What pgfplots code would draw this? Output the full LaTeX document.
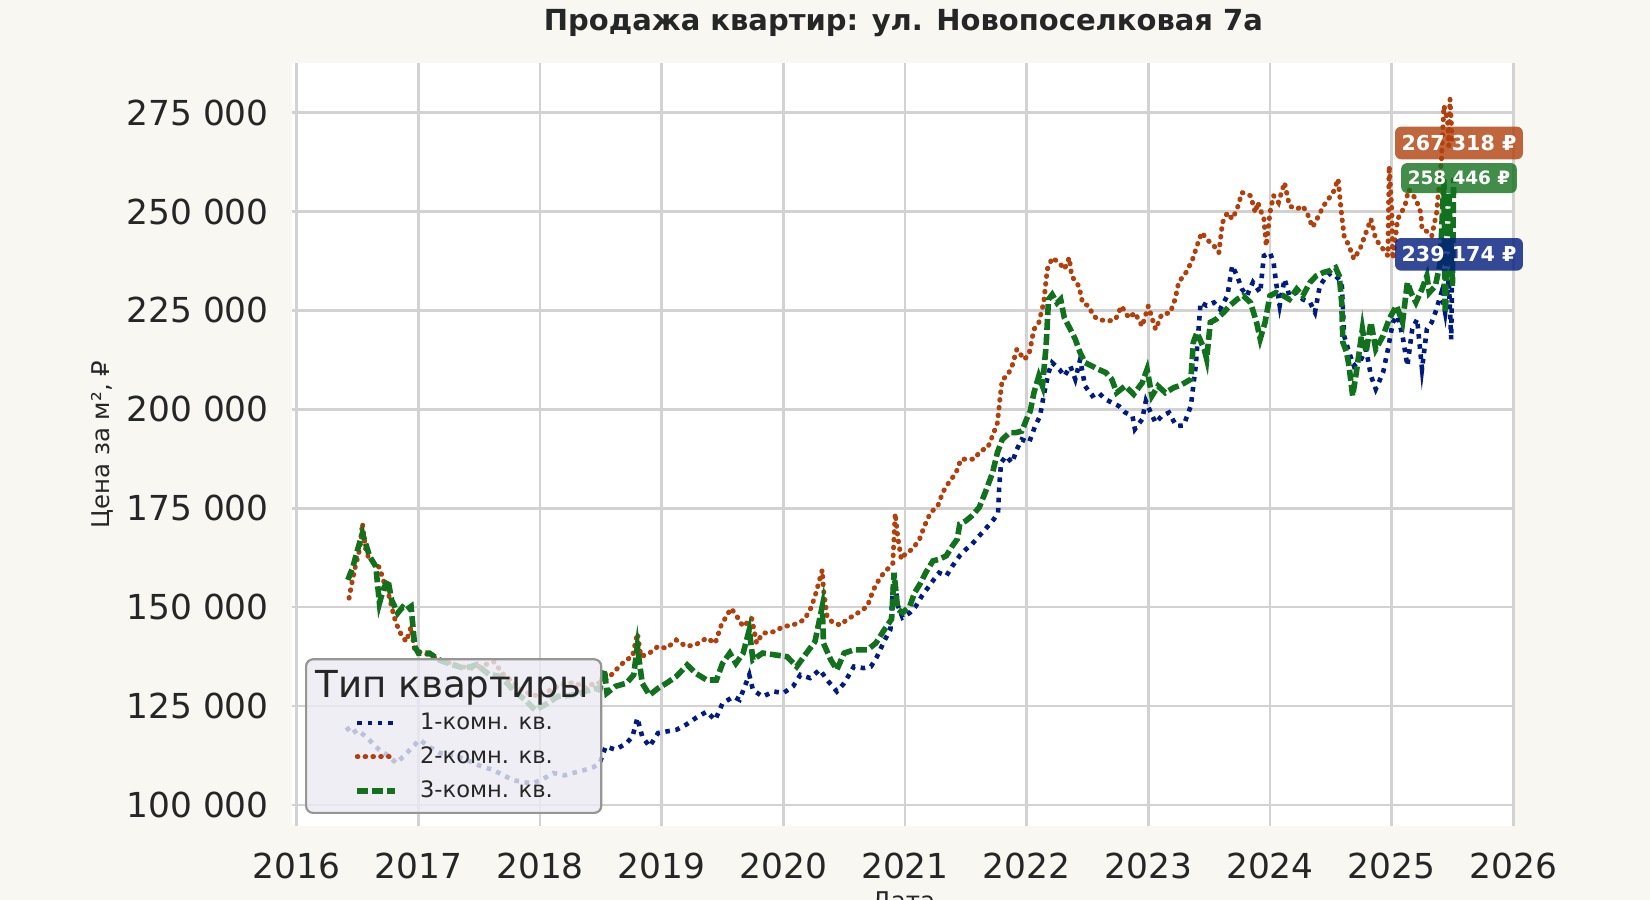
\documentclass[border=0pt]{standalone}
\usepackage{fontspec}
\setmainfont{DejaVu Sans}
\usepackage{pgfplots}
\pgfplotsset{compat=1.18}

\definecolor{figbg}{RGB}{248,247,242}
\definecolor{txt}{RGB}{38,38,38}
\definecolor{gridc}{RGB}{210,210,210}
\definecolor{c1}{HTML}{001C7F}
\definecolor{c2}{HTML}{B1400D}
\definecolor{c3}{HTML}{12711C}
\definecolor{legfill}{RGB}{234,234,242}
\definecolor{legdraw}{RGB}{150,150,150}

% struts that fix the height of the legend rows
\newcommand\entstrut{\rule[-3.35pt]{0pt}{11.85pt}}
\newcommand\titstrut{\rule[-8.65pt]{0pt}{22.75pt}}

\tikzset{pricelab/.style={fill opacity=0.8, text opacity=1, text=white,
    rounded corners=3pt, inner xsep=3.3pt, inner ysep=4.4pt,
    text height=7.5pt, text depth=0pt, anchor=center}}

\begin{document}
\begin{tikzpicture}
\fill[figbg] (0,0) rectangle (825pt,450pt);
\begin{axis}[
    at={(145.75pt,36.95pt)}, anchor=south west,
    scale only axis, width=611.9pt, height=381.5pt,
    xmin=2015.957, xmax=2026.017,
    ymin=94680, ymax=287500,
    clip mode=individual,
    axis background/.style={fill=white},
    axis line style={draw=none},
    major tick length=0pt,
    xtick={2016,2017,2018,2019,2020,2021,2022,2023,2024,2025,2026},
    ytick={100000,125000,150000,175000,200000,225000,250000,275000},
    grid=major,
    major grid style={gridc, line width=1.3pt},
    scaled ticks=false,
    /pgf/number format/assume math mode=true,
    tick label style={font=\fontsize{17.2}{20}\selectfont, text=txt},
    xticklabel style={/pgf/number format/1000 sep={}, anchor=center, yshift=-20pt, inner sep=0pt},
    yticklabel style={/pgf/number format/fixed, /pgf/number format/1000 sep={\ }, anchor=east, xshift=-11.15pt, inner sep=0pt},
    title={Продажа квартир: ул. Новопоселковая 7а},
    every axis title/.style={at={(axis description cs:0.5,1)}, anchor=center, yshift=20.1pt,
        font=\bfseries\fontsize{14.5}{17}\selectfont, text=txt},
    xlabel={Дата},
    every axis x label/.style={at={(axis description cs:0.5,0)}, anchor=north, yshift=-32.5pt,
        inner sep=0pt, font=\fontsize{12.2}{14}\selectfont, text=txt},
    ylabel={Цена за м², ₽},
    every axis y label/.style={at={(axis description cs:-0.15484,0.5)}, rotate=90, anchor=center,
        inner sep=0pt, font=\fontsize{12.2}{14}\selectfont, text=txt},
    legend style={
        at={(0,0)}, anchor=south west, xshift=6.75pt, yshift=6.05pt,
        fill=legfill, fill opacity=0.8, text opacity=1, draw=legdraw, line width=1.1pt,
        rounded corners=3.5pt,
        inner xsep=24.2pt, inner ysep=5pt, row sep=6.2pt,
        nodes={inner sep=0pt, text=txt},
        cells={anchor=west},
        font=\fontsize{11.3}{13}\selectfont,
        /tikz/every odd column/.append style={column sep=11.2pt},
    },
    legend image code/.code={\draw[#1] (0pt,0pt) -- (18.8pt,0pt); \path (0pt,-4.6pt);},
]

\addlegendimage{empty legend}
\addlegendentry{\fontsize{18.6}{20}\selectfont\titstrut\hspace*{-52.2pt}Тип квартиры\hspace*{-20pt}}

% 1-комн.
\addplot[c1, line width=2.3pt, dash pattern=on 2.3pt off 2.8pt] coordinates {
(2016.41,119700) (2016.45,118000) (2016.50,119000) (2016.58,117000) (2016.68,113900)
(2016.75,112500) (2016.82,110600) (2016.90,113000) (2017.01,116500) (2017.10,114500)
(2017.18,113100) (2017.30,112500) (2017.40,111400) (2017.50,110000) (2017.62,108800)
(2017.70,107500) (2017.78,106300) (2017.86,105800) (2017.94,105500) (2018.02,106500)
(2018.11,108100) (2018.20,107500) (2018.27,108100) (2018.36,108800) (2018.44,109600)
(2018.49,110600) (2018.54,114800) (2018.62,114000) (2018.71,115600) (2018.76,117300)
(2018.80,122000) (2018.84,117300) (2018.90,114800) (2018.97,118200) (2019.04,118600)
(2019.12,119000) (2019.20,120300) (2019.28,122000) (2019.37,123600) (2019.44,121500)
(2019.50,125700) (2019.59,127400) (2019.64,126600) (2019.72,132900) (2019.75,129100)
(2019.83,127400) (2019.92,128700) (2020.00,128300) (2020.08,130000) (2020.14,132900)
(2020.22,132100) (2020.30,134200) (2020.36,131600) (2020.44,128700) (2020.50,130800)
(2020.58,135000) (2020.66,134600) (2020.72,135000) (2020.77,137500) (2020.83,141500)
(2020.88,144300) (2020.91,159000) (2020.94,150500) (2020.98,147400) (2021.04,148600)
(2021.09,150300) (2021.14,152900) (2021.20,155400) (2021.24,157100) (2021.28,158700)
(2021.34,157900) (2021.39,160400) (2021.45,163000) (2021.50,164600) (2021.55,165900)
(2021.61,168000) (2021.66,169700) (2021.73,172200) (2021.765,173900) (2021.775,180600)
(2021.79,186500) (2021.83,188200) (2021.88,186500) (2021.92,189900) (2021.96,192400)
(2022.02,191600) (2022.07,195800) (2022.11,198300) (2022.14,203400) (2022.18,209300)
(2022.21,211800) (2022.27,210100) (2022.31,208400) (2022.36,210900) (2022.40,207600)
(2022.44,212600) (2022.48,205900) (2022.54,203400) (2022.59,204200) (2022.65,202500)
(2022.70,201700) (2022.76,200800) (2022.81,199200) (2022.87,198300) (2022.89,195000)
(2022.95,197500) (2022.98,202100) (2023.02,199200) (2023.06,196600) (2023.11,198300)
(2023.17,199200) (2023.23,195800) (2023.29,195900) (2023.35,200900) (2023.39,211000)
(2023.43,227000) (2023.48,226200) (2023.54,227000) (2023.59,225300) (2023.65,228700)
(2023.69,236300) (2023.73,233700) (2023.77,230400) (2023.81,228700) (2023.86,232100)
(2023.92,229500) (2023.95,238800) (2024.00,239600) (2024.03,237100) (2024.05,232100)
(2024.08,226200) (2024.12,232900) (2024.16,228700) (2024.22,229500) (2024.27,227800)
(2024.33,227000) (2024.37,224500) (2024.41,231200) (2024.45,233000) (2024.50,234500)
(2024.54,233700) (2024.59,232100) (2024.61,218600) (2024.65,214400) (2024.69,211000)
(2024.75,212700) (2024.79,215200) (2024.83,208500) (2024.87,205100) (2024.93,209300)
(2024.97,215200) (2025.01,222000) (2025.05,223600) (2025.09,218600) (2025.13,211000)
(2025.17,220300) (2025.21,222800) (2025.25,210200) (2025.29,220300) (2025.33,222000)
(2025.36,224500) (2025.41,229500) (2025.44,224500) (2025.47,232900) (2025.49,217700)
(2025.50,239174)
};
\addlegendentry{\entstrut 1-комн. кв.}

% 2-комн.
\addplot[c2, line width=2.5pt, line cap=round, dash pattern=on 0.3pt off 3.6pt] coordinates {
(2016.43,152300) (2016.45,155600) (2016.48,160000) (2016.52,165000) (2016.54,171200)
(2016.57,164000) (2016.60,162000) (2016.65,161000) (2016.68,160000) (2016.72,156000)
(2016.76,152700) (2016.80,147600) (2016.83,145000) (2016.86,143000) (2016.90,141300)
(2016.94,145000) (2016.97,139000) (2017.05,138400) (2017.15,137000) (2017.25,136000)
(2017.35,135000) (2017.45,134500) (2017.55,135500) (2017.62,136200) (2017.70,133000)
(2017.78,131000) (2017.85,129000) (2017.92,128000) (2018.00,127500) (2018.08,129000)
(2018.18,130500) (2018.28,131000) (2018.38,129500) (2018.45,131000) (2018.49,130800)
(2018.54,131600) (2018.60,133300) (2018.65,135000) (2018.71,136700) (2018.76,137500)
(2018.80,143400) (2018.83,137500) (2018.90,138400) (2018.97,140100) (2019.04,139600)
(2019.12,141700) (2019.20,140100) (2019.28,140500) (2019.37,142200) (2019.44,140900)
(2019.49,145500) (2019.53,147600) (2019.57,149700) (2019.61,148100) (2019.67,145100)
(2019.74,147200) (2019.78,140900) (2019.83,143400) (2019.92,143800) (2020.00,145100)
(2020.08,145500) (2020.17,146800) (2020.22,149300) (2020.26,152700) (2020.32,159400)
(2020.33,154400) (2020.36,147600) (2020.41,146000) (2020.47,145500) (2020.52,146800)
(2020.61,148500) (2020.69,150200) (2020.74,154400) (2020.80,157700) (2020.85,159400)
(2020.90,161100) (2020.92,173700) (2020.94,167800) (2020.97,162100) (2021.01,163800)
(2021.06,164600) (2021.12,167200) (2021.16,170500) (2021.21,173900) (2021.27,175600)
(2021.31,179000) (2021.36,181500) (2021.42,184000) (2021.46,187400) (2021.50,187400)
(2021.57,187400) (2021.62,189500) (2021.68,190300) (2021.72,193300) (2021.76,196600)
(2021.78,202500) (2021.80,207600) (2021.84,208400) (2021.88,210900) (2021.92,215200)
(2021.98,212600) (2022.02,213900) (2022.06,220200) (2022.10,221900) (2022.14,226900)
(2022.17,235400) (2022.21,238300) (2022.27,237000) (2022.31,235400) (2022.35,238300)
(2022.37,233700) (2022.43,231100) (2022.46,226900) (2022.51,226100) (2022.55,223600)
(2022.59,222700) (2022.67,222300) (2022.73,222700) (2022.78,226100) (2022.84,223100)
(2022.89,224400) (2022.95,221000) (2023.00,226100) (2023.06,220200) (2023.11,224000)
(2023.18,224400) (2023.22,227800) (2023.25,232100) (2023.31,234600) (2023.36,237500)
(2023.40,241300) (2023.44,244700) (2023.48,243000) (2023.54,241300) (2023.58,239600)
(2023.61,247200) (2023.65,249700) (2023.69,248100) (2023.73,250600) (2023.77,254800)
(2023.84,254000) (2023.88,249700) (2023.90,252300) (2023.95,248100) (2023.97,241300)
(2024.00,249700) (2024.03,254000) (2024.07,252300) (2024.12,257300) (2024.16,251400)
(2024.22,250600) (2024.27,251400) (2024.31,249300) (2024.35,246000) (2024.40,248900)
(2024.44,251400) (2024.48,253100) (2024.52,254800) (2024.56,258200) (2024.59,248900)
(2024.61,243800) (2024.65,241300) (2024.69,238000) (2024.74,240500) (2024.79,244700)
(2024.83,248100) (2024.87,243000) (2024.93,240500) (2024.97,238800) (2024.98,261500)
(2025.00,251400) (2025.01,238000) (2025.05,248100) (2025.11,251400) (2025.14,255600)
(2025.20,253100) (2025.24,249700) (2025.25,245500) (2025.31,244700) (2025.33,243800)
(2025.37,249700) (2025.41,263200) (2025.43,276700) (2025.46,273300) (2025.47,266600)
(2025.48,278400) (2025.50,267318)
};
\addlegendentry{\entstrut 2-комн. кв.}

% 3-комн.
\addplot[c3, line width=2.8pt, dash pattern=on 5.5pt off 2pt] coordinates {
(2016.42,156900) (2016.46,160000) (2016.50,164500) (2016.54,168700) (2016.57,165700)
(2016.60,162800) (2016.65,160300) (2016.68,151000) (2016.71,154400) (2016.75,156900)
(2016.78,151800) (2016.83,148500) (2016.87,150000) (2016.90,149300) (2016.94,150200)
(2016.97,140100) (2017.00,138400) (2017.09,138400) (2017.18,136500) (2017.28,135500)
(2017.38,134500) (2017.48,135500) (2017.58,133000) (2017.68,132500) (2017.78,129000)
(2017.88,126500) (2017.96,124000) (2018.05,125500) (2018.15,127500) (2018.25,127700)
(2018.35,128500) (2018.45,129500) (2018.49,129100) (2018.53,134200) (2018.55,128300)
(2018.62,130000) (2018.71,130800) (2018.77,132900) (2018.80,140100) (2018.84,130800)
(2018.90,127800) (2018.97,129500) (2019.04,130800) (2019.12,132500) (2019.21,135400)
(2019.28,133300) (2019.37,131600) (2019.45,131600) (2019.50,135800) (2019.56,138400)
(2019.61,135800) (2019.67,138400) (2019.72,144300) (2019.75,136700) (2019.83,138400)
(2019.92,138000) (2020.03,137500) (2020.11,135000) (2020.19,138400) (2020.26,141300)
(2020.32,150200) (2020.33,140900) (2020.39,136700) (2020.44,134200) (2020.50,138400)
(2020.58,139200) (2020.69,139200) (2020.76,140900) (2020.83,144300) (2020.89,147000)
(2020.91,158700) (2020.94,149500) (2020.98,148600) (2021.04,150300) (2021.08,153700)
(2021.13,156200) (2021.17,158700) (2021.23,161700) (2021.28,162100) (2021.34,163000)
(2021.39,165500) (2021.43,167200) (2021.45,171000) (2021.50,171800) (2021.55,173100)
(2021.61,175200) (2021.66,179000) (2021.69,181500) (2021.72,184000) (2021.76,189100)
(2021.80,192400) (2021.86,194100) (2021.91,194100) (2021.96,194500) (2022.01,198300)
(2022.03,199600) (2022.06,204200) (2022.10,208400) (2022.13,205900) (2022.16,216000)
(2022.18,227800) (2022.21,229000) (2022.25,226900) (2022.28,227800) (2022.31,223100)
(2022.36,220200) (2022.40,217700) (2022.44,214300) (2022.48,211800) (2022.54,210900)
(2022.59,210100) (2022.65,209300) (2022.70,207600) (2022.74,204200) (2022.81,205900)
(2022.88,203800) (2022.95,206700) (2022.99,210100) (2023.03,203400) (2023.08,205900)
(2023.14,204200) (2023.21,205500) (2023.26,206000) (2023.35,207600) (2023.37,216900)
(2023.40,219400) (2023.46,215200) (2023.48,212700) (2023.51,222000) (2023.56,222800)
(2023.62,224500) (2023.67,226200) (2023.73,227800) (2023.78,228700) (2023.84,227000)
(2023.89,222000) (2023.92,217800) (2023.96,222000) (2024.00,228700) (2024.05,229500)
(2024.11,228700) (2024.16,227800) (2024.22,230400) (2024.27,228700) (2024.33,232100)
(2024.38,233700) (2024.44,234600) (2024.49,235000) (2024.54,235800) (2024.57,233700)
(2024.59,227000) (2024.60,216900) (2024.63,214400) (2024.65,211000) (2024.68,203400)
(2024.71,209300) (2024.76,220300) (2024.79,214400) (2024.83,222000) (2024.87,215200)
(2024.93,218600) (2024.98,222800) (2025.04,226200) (2025.09,222000) (2025.13,232100)
(2025.16,229500) (2025.20,227000) (2025.25,230400) (2025.29,233700) (2025.31,229500)
(2025.36,231200) (2025.40,237100) (2025.43,258200) (2025.44,224500) (2025.47,254800)
(2025.50,231200) (2025.51,258446)
};
\addlegendentry{\entstrut 3-комн. кв.}

% last values
\node[pricelab, fill=c2, font=\bfseries\fontsize{10.3}{12}\selectfont] at (axis cs:2025.554,267318) {267 318 ₽};
\node[pricelab, fill=c3, font=\bfseries\fontsize{9.2}{11}\selectfont, text height=6.7pt, inner ysep=4.15pt] at (axis cs:2025.554,258446) {258 446 ₽};
\node[pricelab, fill=c1, font=\bfseries\fontsize{10.3}{12}\selectfont] at (axis cs:2025.554,239174) {239 174 ₽};
\end{axis}
\pgfresetboundingbox
\useasboundingbox (0,0) rectangle (825pt,450pt);
\end{tikzpicture}
\end{document}
